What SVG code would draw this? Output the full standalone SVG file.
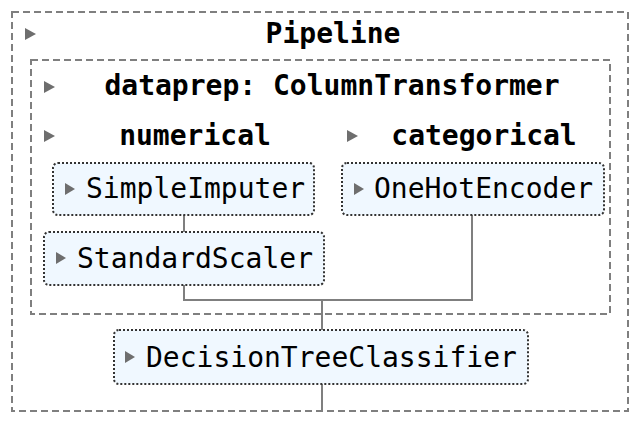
<svg xmlns="http://www.w3.org/2000/svg" width="640" height="422" viewBox="0 0 640 422">
<style>
.box{fill:none;stroke:#7f7f7f;stroke-width:2;stroke-dasharray:7,4}
.node{fill:#f0f8ff;stroke:#333;stroke-width:2;stroke-dasharray:2,2}
.t{font-family:"DejaVu Sans Mono",monospace;font-size:28px;fill:#000}
.b{font-weight:bold}
.tri{fill:#6e6e6e}
.edge{fill:none;stroke:#7f7f7f;stroke-width:2}
</style>
<rect width="640" height="422" fill="#fff"/>
<g id="pipeline">
<rect class="box" x="12" y="12" width="616" height="399"/>
<polygon class="tri" points="25,28 36,34 25,40"/>
<text class="t b" x="333" y="43" text-anchor="middle">Pipeline</text>
</g>
<g id="dataprep">
<rect class="box" x="31" y="60" width="579" height="254"/>
<polygon class="tri" points="44,81 55,87 44,93"/>
<text class="t b" x="332" y="95" text-anchor="middle">dataprep: ColumnTransformer</text>
<polygon class="tri" points="44,130 55,136 44,142"/>
<text class="t b" x="195" y="145" text-anchor="middle">numerical</text>
<polygon class="tri" points="347,130 358,136 347,142"/>
<text class="t b" x="484" y="145" text-anchor="middle">categorical</text>
</g>
<g id="connectors">
<path class="edge" d="M184,215V232M184,285V300H472V215M322,300V330M322,384V411"/>
</g>
<g id="simpleimputer">
<rect class="node" x="53" y="163" width="261" height="52" rx="5"/>
<polygon class="tri" points="65,183 75,189 65,195"/>
<text class="t" x="86" y="198">SimpleImputer</text>
</g>
<g id="standardscaler">
<rect class="node" x="44" y="232" width="280" height="53" rx="5"/>
<polygon class="tri" points="56,252 66,258 56,264"/>
<text class="t" x="77" y="268">StandardScaler</text>
</g>
<g id="onehotencoder">
<rect class="node" x="342" y="163" width="262" height="52" rx="5"/>
<polygon class="tri" points="354,183 364,189 354,195"/>
<text class="t" x="374" y="198">OneHotEncoder</text>
</g>
<g id="decisiontree">
<rect class="node" x="114" y="330" width="414" height="54" rx="5"/>
<polygon class="tri" points="125,351 135,357 125,363"/>
<text class="t" x="146" y="367">DecisionTreeClassifier</text>
</g>
</svg>
